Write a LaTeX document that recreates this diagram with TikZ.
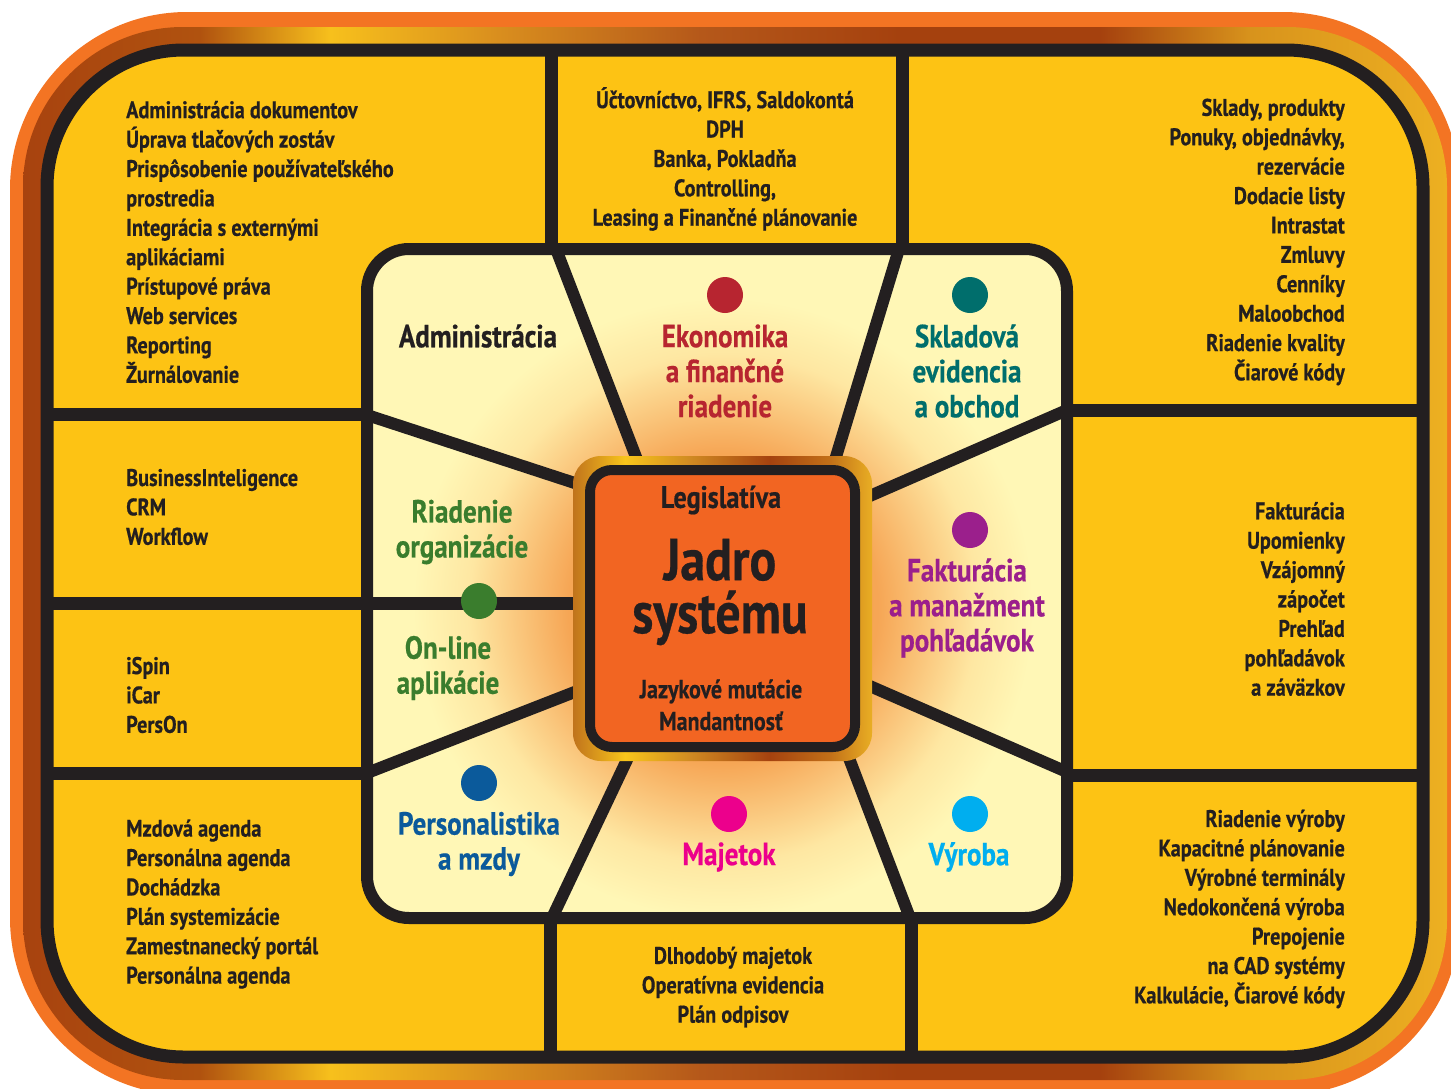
\documentclass[tikz,border=0pt]{standalone}
\usepackage{fontspec}
\setmainfont{PT Sans}[FakeStretch=0.845, BoldFeatures={FakeBold=0.5}]
\definecolor{inkc}{HTML}{231F20}
\definecolor{yelc}{HTML}{FDC314}
\definecolor{palec}{HTML}{FFF7B6}
\definecolor{orc}{HTML}{F37423}
\definecolor{corec}{HTML}{F26522}
\definecolor{redc}{HTML}{B72530}
\definecolor{tealc}{HTML}{006E6C}
\definecolor{greenc}{HTML}{3A7D2D}
\definecolor{purpc}{HTML}{9B1F8C}
\definecolor{bluec}{HTML}{0B5A9B}
\definecolor{magc}{HTML}{EC008C}
\definecolor{cyanc}{HTML}{00AEEF}
\definecolor{bA}{HTML}{A8430F}
\definecolor{bB}{HTML}{B0520F}
\definecolor{bC}{HTML}{F7C01C}
\definecolor{bD}{HTML}{D98E1E}
\definecolor{bE}{HTML}{B5581A}
\definecolor{bF}{HTML}{A5410E}
\definecolor{bG}{HTML}{D8931C}
\definecolor{bH}{HTML}{EDB021}
\definecolor{cA}{HTML}{C0731C}
\definecolor{cB}{HTML}{F8C51B}
\definecolor{cC}{HTML}{D08A22}
\definecolor{cD}{HTML}{A5420F}
\definecolor{cE}{HTML}{C27018}
\definecolor{cF}{HTML}{E9AE24}
\definecolor{gA}{HTML}{F39444}
\definecolor{gB}{HTML}{F6A655}
\definecolor{gC}{HTML}{FAC67C}
\definecolor{gD}{HTML}{FEE7A2}
\pgfdeclarehorizontalshading{bandsh}{100bp}{color(0bp)=(bA); color(25bp)=(bA); color(31.2bp)=(bB); color(35.8bp)=(bC); color(41.7bp)=(bD); color(48.8bp)=(bE); color(55.8bp)=(bF); color(62.8bp)=(bF); color(68.1bp)=(bG); color(75bp)=(bH); color(100bp)=(bH)}
\pgfdeclarehorizontalshading{coresh}{100bp}{color(0bp)=(cA); color(25bp)=(cA); color(33.7bp)=(cB); color(44.6bp)=(cC); color(57.9bp)=(cD); color(68bp)=(cE); color(75bp)=(cF); color(100bp)=(cF)}
\pgfdeclareradialshading{glowsh}{\pgfpoint{0bp}{0bp}}{color(0bp)=(gA); color(12.5bp)=(gB); color(16.5bp)=(gC); color(20.5bp)=(gD); color(25bp)=(palec); color(50bp)=(palec)}
\tikzset{
  gridline/.style={draw=inkc, line width=13pt},
  spoke/.style={draw=inkc, line width=12pt},
  listtxt/.style={font=\bfseries\fontsize{24}{29.4}\selectfont, text=inkc, inner sep=0pt},
  segtxt/.style={font=\bfseries\fontsize{32}{35}\selectfont, inner sep=0pt, align=center},
  dotc/.style={circle, inner sep=0pt, minimum size=36pt},
}
\begin{document}
\begin{tikzpicture}[x=1pt,y=-1pt]
\useasboundingbox (0,0) rectangle (1451,1088);
\clip (0,0) rectangle (1451,1088);
% outer frame
\fill[orc, rounded corners=177pt] (10,12) rectangle (1460,1095);
\shade[shading=bandsh, rounded corners=160pt] (23,27) rectangle (1447,1080);
\filldraw[fill=yelc, draw=inkc, line width=13pt, rounded corners=137pt] (47,50) rectangle (1423,1057);
% grid lines
\draw[gridline] (551,50) -- (551,249);
\draw[gridline] (902,50) -- (902,249);
\draw[gridline] (47,414) -- (367,414);
\draw[gridline] (1067,410) -- (1423,410);
\draw[gridline] (47,603) -- (367,603);
\draw[gridline] (47,773) -- (367,773);
\draw[gridline] (1067,775) -- (1423,775);
\draw[gridline] (550,918) -- (550,1057);
\draw[gridline] (911,918) -- (911,1057);
% inner box
\fill[palec, rounded corners=42pt] (367,249) rectangle (1067,918);
\begin{scope}
\clip[rounded corners=42pt] (367,249) rectangle (1067,918);
\shade[shading=glowsh] (723,608) circle (310);
\end{scope}
% spokes
\draw[spoke] (556,249) -- (641,470);
\draw[spoke] (899,249) -- (832,470);
\draw[spoke] (367,415) -- (590,488);
\draw[gridline] (367,603) -- (590,603);
\draw[spoke] (367,773) -- (590,686);
\draw[spoke] (1067,410) -- (856,502);
\draw[spoke] (1067,772) -- (856,680);
\draw[spoke] (552,918) -- (634,745);
\draw[spoke] (910,918) -- (844,745);
\draw[draw=inkc, line width=12pt, rounded corners=42pt] (367,249) rectangle (1067,918);
% center box
\shade[shading=coresh, rounded corners=28pt] (573,456) rectangle (872,761);
\filldraw[fill=corec, draw=inkc, line width=10pt, rounded corners=22pt] (590,470) rectangle (855,747);
\node[font=\bfseries\fontsize{31}{34}\selectfont, text=inkc, inner sep=0pt] (legis) at (721,500) {Legislatíva};
\node[font=\bfseries\fontsize{59}{53}\selectfont, text=inkc, inner sep=0pt, align=center] (core) at (720,592) {Jadro\\systému};
\node[font=\bfseries\fontsize{26}{32}\selectfont, text=inkc, inner sep=0pt, align=center] (lang) at (721,705) {Jazykové mutácie\\Mandantnosť};
% dots
\node[dotc, fill=redc] (dEko) at (725,295) {};
\node[dotc, fill=tealc] (dSkl) at (970,295) {};
\node[dotc, fill=greenc] (dRia) at (479,601) {};
\node[dotc, fill=purpc] (dFak) at (970,530) {};
\node[dotc, fill=bluec] (dPer) at (479,783) {};
\node[dotc, fill=magc] (dMaj) at (729,814) {};
\node[dotc, fill=cyanc] (dVyr) at (970,814) {};
% segment labels
\node[segtxt, text=inkc] (sAdm) at (478,336) {Administrácia};
\node[segtxt, text=redc] (sEko) at (725,371) {Ekonomika\\a finančné\\riadenie};
\node[segtxt, text=tealc] (sSkl) at (967,371) {Skladová\\evidencia\\a obchod};
\node[segtxt, text=greenc] (sRia) at (462,532) {Riadenie\\organizácie};
\node[segtxt, text=greenc] (sOnl) at (448,668) {On-line\\aplikácie};
\node[segtxt, text=purpc] (sFak) at (967,608) {Fakturácia\\a manažment\\pohľadávok};
\node[segtxt, text=bluec] (sPer) at (479,844) {Personalistika\\a mzdy};
\node[segtxt, text=magc] (sMaj) at (729,857) {Majetok};
\node[segtxt, text=cyanc] (sVyr) at (969,857) {Výroba};
% outer lists
\node[listtxt, anchor=west, align=left] (lTL) at (126,242) {Administrácia dokumentov\\Úprava tlačových zostáv\\Prispôsobenie používateľského\\prostredia\\Integrácia s externými\\aplikáciami\\Prístupové práva\\Web services\\Reporting\\Žurnálovanie};
\node[listtxt, align=center] (lTC) at (725,159) {Účtovníctvo, IFRS, Saldokontá\\DPH\\Banka, Pokladňa\\Controlling,\\Leasing a Finančné plánovanie};
\node[listtxt, anchor=east, align=right] (lTR) at (1345,242) {Sklady, produkty\\Ponuky, objednávky,\\rezervácie\\Dodacie listy\\Intrastat\\Zmluvy\\Cenníky\\Maloobchod\\Riadenie kvality\\Čiarové kódy};
\node[listtxt, anchor=west, align=left] (lBI) at (126,507) {BusinessInteligence\\CRM\\Workflow};
\node[listtxt, anchor=west, align=left] (lIS) at (126,695) {iSpin\\iCar\\PersOn};
\node[listtxt, anchor=east, align=right] (lFak) at (1345,599) {Fakturácia\\Upomienky\\Vzájomný\\zápočet\\Prehľad\\pohľadávok\\a záväzkov};
\node[listtxt, anchor=west, align=left] (lMzd) at (126,904) {Mzdová agenda\\Personálna agenda\\Dochádzka\\Plán systemizácie\\Zamestnanecký portál\\Personálna agenda};
\node[listtxt, anchor=east, align=right] (lVyr) at (1345,909) {Riadenie výroby\\Kapacitné plánovanie\\Výrobné terminály\\Nedokončená výroba\\Prepojenie\\na CAD systémy\\Kalkulácie, Čiarové kódy};
\node[listtxt, align=center] (lMaj) at (733,987) {Dlhodobý majetok\\Operatívna evidencia\\Plán odpisov};
\end{tikzpicture}
\end{document}
